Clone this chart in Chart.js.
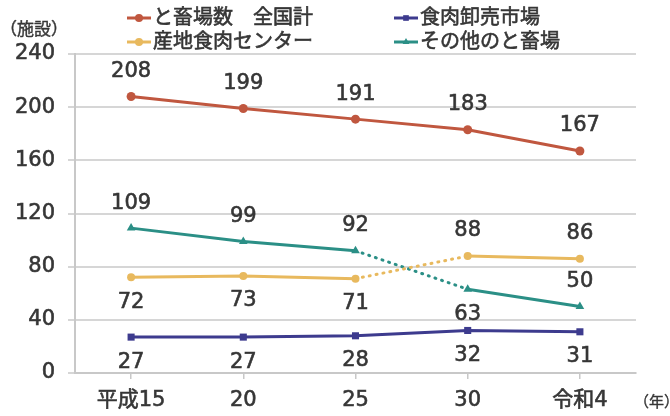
<!DOCTYPE html>
<html lang="ja">
<head>
<meta charset="utf-8">
<script src="https://cdn.jsdelivr.net/npm/chart.js@4/dist/chart.umd.min.js"></script>
<style>
html, body { margin: 0; padding: 0; background: #fff; }
#wrap { position: relative; width: 670px; height: 416px; }
</style>
</head>
<body>
<div id="wrap"><canvas id="chart" width="670" height="416"></canvas></div>
<script>
// Slaughterhouse counts by year (施設)
const years = ['平成15', '20', '25', '30', '令和4'];
const totalAll = [208, 199, 191, 183, 167];
const wholesale = [27, 27, 28, 32, 31];
const regional = [72, 73, 71, 88, 86];
const others = [109, 99, 92, 63, 50];
const yMin = 0, yMax = 240, yStep = 40;

const FONT = "'DejaVu Sans', 'Noto Sans CJK JP', sans-serif";
const TEXT = '#363636';

// dotted join between 25 and 30
const dotted = { borderDash: ctx => ctx.p0DataIndex === 2 ? [1, 6] : undefined };

const datasets = [
    {
        label: 'と畜場数　全国計', data: totalAll,
        borderColor: '#c0573f', backgroundColor: '#c0573f',
        pointStyle: 'circle', pointRadius: 4.5,
        labelSide: [-1, -1, -1, -1, -1], legendCol: 0, legendRow: 0
    },
    {
        label: '食肉卸売市場', data: wholesale,
        borderColor: '#3d3b8e', backgroundColor: '#3d3b8e',
        pointStyle: 'rect', pointRadius: 5,
        labelSide: [1, 1, 1, 1, 1], legendCol: 1, legendRow: 0
    },
    {
        label: '産地食肉センター', data: regional,
        borderColor: '#e8b95e', backgroundColor: '#e8b95e',
        pointStyle: 'circle', pointRadius: 4,
        segment: dotted,
        labelSide: [1, 1, 1, -1, -1], legendCol: 0, legendRow: 1
    },
    {
        label: 'その他のと畜場', data: others,
        borderColor: '#2b8f86', backgroundColor: '#2b8f86',
        pointStyle: 'triangle', pointRadius: 5,
        segment: dotted,
        labelSide: [-1, -1, -1, 1, -1], legendCol: 1, legendRow: 1
    }
];
datasets.forEach(d => {
    d.borderWidth = 3;
    d.borderCapStyle = 'round';
    d.tension = 0;
    d.pointBorderWidth = 0;
    d.fill = false;
});

// slightly heavier text: fill plus a thin outline in the same colour
function boldText(ctx, str, x, y) {
    ctx.fillText(str, x, y);
    ctx.strokeText(str, x, y);
}

// value labels above / below each point
const valueLabels = {
    id: 'valueLabels',
    afterDatasetsDraw(chart) {
        const ctx = chart.ctx;
        ctx.save();
        ctx.font = '21px ' + FONT;
        ctx.fillStyle = TEXT;
        ctx.strokeStyle = TEXT;
        ctx.lineWidth = 0.6;
        ctx.textAlign = 'center';
        ctx.textBaseline = 'middle';
        chart.data.datasets.forEach((ds, i) => {
            chart.getDatasetMeta(i).data.forEach((pt, j) => {
                boldText(ctx, String(ds.data[j]), pt.x, pt.y + ds.labelSide[j] * 25);
            });
        });
        ctx.restore();
    }
};

// two-column legend plus unit captions
const legendAndUnits = {
    id: 'legendAndUnits',
    afterDraw(chart) {
        const ctx = chart.ctx;
        ctx.save();
        const colX = [127, 394];
        const rowY = [18, 42];
        chart.data.datasets.forEach(ds => {
            const x = colX[ds.legendCol], y = rowY[ds.legendRow];
            ctx.strokeStyle = ds.borderColor;
            ctx.lineWidth = 3;
            ctx.beginPath();
            ctx.moveTo(x, y);
            ctx.lineTo(x + 24, y);
            ctx.stroke();
            ctx.fillStyle = ds.backgroundColor;
            Chart.helpers.drawPoint(ctx, { pointStyle: ds.pointStyle, radius: 4, borderWidth: 0 }, x + 12, y);
            ctx.fillStyle = TEXT;
            ctx.strokeStyle = TEXT;
            ctx.lineWidth = 0.6;
            ctx.font = '20px ' + FONT;
            ctx.textAlign = 'left';
            ctx.textBaseline = 'middle';
            boldText(ctx, ds.label, x + 26, y + 1);
        });
        ctx.font = '17px ' + FONT;
        ctx.fillStyle = TEXT;
        ctx.strokeStyle = TEXT;
        ctx.lineWidth = 0.4;
        ctx.textAlign = 'left';
        ctx.textBaseline = 'middle';
        boldText(ctx, '（施設）', 0, 31);
        ctx.font = '15px ' + FONT;
        boldText(ctx, '（年）', 634, 403);
        ctx.restore();
    }
};

new Chart(document.getElementById('chart'), {
    type: 'line',
    data: { labels: years, datasets },
    options: {
        responsive: false,
        animation: false,
        layout: { padding: { top: 54, right: 34, left: 0, bottom: 0 } },
        plugins: { legend: { display: false }, tooltip: { enabled: false } },
        scales: {
            x: {
                offset: true,
                afterFit: s => { s.height = 43; },
                grid: { display: true, drawOnChartArea: false, tickLength: 6, color: '#c8c8c8', lineWidth: 1.5 },
                border: { color: '#c8c8c8', width: 2 },
                ticks: {
                    font: { family: FONT, size: 21 }, color: TEXT, padding: 9,
                    textStrokeColor: TEXT, textStrokeWidth: 0.6,
                    maxRotation: 0, autoSkip: false
                }
            },
            y: {
                min: yMin, max: yMax,
                afterFit: s => { s.width = 75; },
                grid: { color: '#d6d6d6', lineWidth: 2, tickLength: 7 },
                border: { color: '#c8c8c8', width: 2 },
                ticks: {
                    stepSize: yStep, font: { family: FONT, size: 21 }, color: TEXT, padding: 13,
                    textStrokeColor: TEXT, textStrokeWidth: 0.6
                }
            }
        }
    },
    plugins: [valueLabels, legendAndUnits]
});
</script>
</body>
</html>
